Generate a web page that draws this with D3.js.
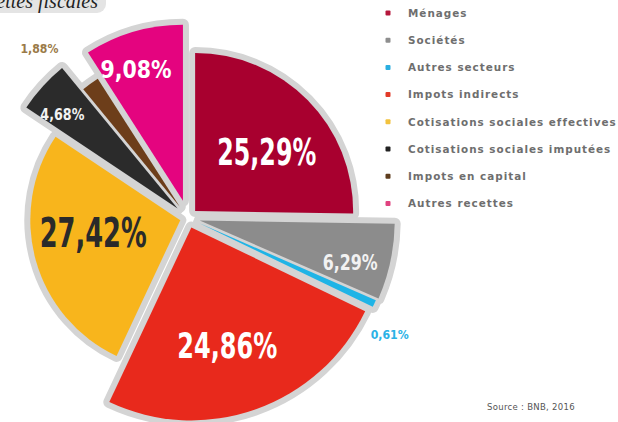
<!DOCTYPE html>
<html>
<head>
<meta charset="utf-8">
<script src="https://cdn.jsdelivr.net/npm/d3@7"></script>
<style>
  body { margin: 0; background: #fff; }
  svg { display: block; }
  .label { font-family: "Liberation Sans Narrow", "DejaVu Sans Condensed", "Liberation Sans", sans-serif; font-weight: bold; text-anchor: middle; }
  .legend text { font-family: "DejaVu Sans", sans-serif; font-weight: bold; font-size: 10.4px; fill: #6e6e6e; }
</style>
</head>
<body>
<div id="app"></div>
<script>
// data
const categories = ["Ménages", "Sociétés", "Autres secteurs", "Impots indirects",
  "Cotisations sociales effectives", "Cotisations sociales imputées", "Impots en capital", "Autres recettes"];
const shares = [25.29, 6.29, 0.61, 24.86, 27.42, 4.68, 1.88, 9.08];
const shareLabels = ["25,29%", "6,29%", "0,61%", "24,86%", "27,42%", "4,68%", "1,88%", "9,08%"];

// look
const sliceColors = ["#a8002f", "#8c8c8c", "#1fb4e6", "#e8291c", "#f8b51c", "#2b2b2b", "#6d3e1a", "#e4047f"];
const legendColors = ["#b5173c", "#8e8e8e", "#2aaee0", "#e23a28", "#f2c23e", "#222222", "#5e3d1e", "#e0427f"];
const labelColors = ["#fff", "#f2f2f2", "#2bb2e6", "#fff", "#2a2a2a", "#f2f2f2", "#9a7a48", "#fff"];
const outerR = [158, 195, 193, 193, 150, 182, 152, 176];
const explode = [10, 12, 12, 10, 8, 14, 14, 18];
// label placement: [angle shift in degrees, radius, font size, width]
const labelStyle = [[4.4, 103, 37, 99], [2.8, 168, 22, 55], [5.4, 233, 13, 38], [2.4, 133, 35, 100],
  [6.6, 96, 40, 107], [-2.6, 163, 16, 44], [-5.3, 225, 12, 38], [-2.9, 158, 25, 71]];

const width = 618, height = 422;
const cx = 188, cy = 218;

const svg = d3.select("#app").append("svg")
  .attr("width", width)
  .attr("height", height);

// title tab, cut by the top of the picture
svg.append("rect")
  .attr("x", -12).attr("y", -12)
  .attr("width", 118).attr("height", 25)
  .attr("rx", 9)
  .attr("fill", "#e4e4e4");
svg.append("text")
  .attr("x", 98).attr("y", 8)
  .attr("text-anchor", "end")
  .style("font-family", "'Liberation Serif', 'DejaVu Serif', serif")
  .style("font-style", "italic")
  .style("font-size", "20px")
  .attr("fill", "#222")
  .text("Recettes fiscales");

const pie = d3.pie().sort(null).value(d => d)(shares);

const g = svg.append("g").attr("transform", `translate(${cx},${cy})`);

function shift(d, i) {
  const a = (d.startAngle + d.endAngle) / 2;
  return [Math.sin(a) * explode[i], -Math.cos(a) * explode[i]];
}

const arcs = pie.map((d, i) => ({ d, i, path: d3.arc().innerRadius(0).outerRadius(outerR[i])(d) }));

// gray rims under everything
g.selectAll("path.rim")
  .data(arcs)
  .join("path")
    .attr("class", "rim")
    .attr("transform", a => `translate(${shift(a.d, a.i)})`)
    .attr("d", a => a.path)
    .attr("fill", "#d4d4d4")
    .attr("stroke", "#d4d4d4")
    .attr("stroke-width", 12)
    .attr("stroke-linejoin", "round");

// slices
g.selectAll("path.slice")
  .data(arcs)
  .join("path")
    .attr("class", "slice")
    .attr("transform", a => `translate(${shift(a.d, a.i)})`)
    .attr("d", a => a.path)
    .attr("fill", a => sliceColors[a.i]);

// value labels
g.selectAll("text.label")
  .data(pie)
  .join("text")
    .attr("class", "label")
    .each(function (d, i) {
      const [da, r, fs, w] = labelStyle[i];
      const a = (d.startAngle + d.endAngle) / 2 + da * Math.PI / 180;
      d3.select(this)
        .attr("x", Math.sin(a) * r)
        .attr("y", -Math.cos(a) * r + fs * 0.36)
        .attr("font-size", fs)
        .attr("textLength", w)
        .attr("lengthAdjust", "spacingAndGlyphs")
        .attr("fill", labelColors[i])
        .text(shareLabels[i]);
    });

// legend
const legend = svg.append("g").attr("class", "legend")
  .attr("transform", "translate(388,13)");
const rows = legend.selectAll("g")
  .data(categories)
  .join("g")
    .attr("transform", (d, i) => `translate(0,${i * 27.2})`);
rows.append("rect")
  .attr("x", -2.5).attr("y", -2.5)
  .attr("width", 5).attr("height", 5)
  .attr("rx", 1)
  .attr("fill", (d, i) => legendColors[i]);
rows.append("text")
  .attr("x", 20)
  .attr("y", 3.7)
  .style("letter-spacing", "1px")
  .text(d => d);

svg.append("text")
  .attr("x", 487).attr("y", 410)
  .style("font-family", "'DejaVu Sans', sans-serif")
  .style("font-size", "8.5px")
  .style("letter-spacing", "0.3px")
  .attr("fill", "#555")
  .text("Source : BNB, 2016");
</script>
</body>
</html>
